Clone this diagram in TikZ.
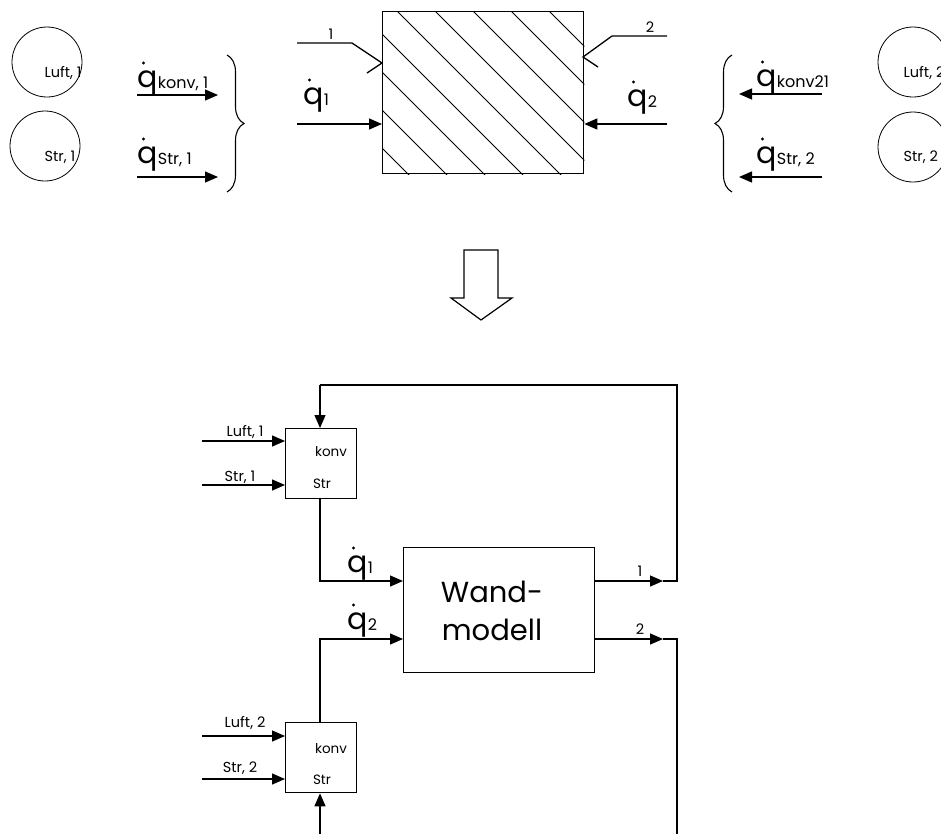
\documentclass[tikz,border=0pt]{standalone}
\usepackage{fontspec}
\setmainfont{Poppins}
\usetikzlibrary{arrows.meta,decorations.pathreplacing}
\newcommand\qdt[1]{{\fontsize{30}{30}\selectfont q}{\fontsize{16}{16}\selectfont\raisebox{-0.12em}{#1}}}
\begin{document}
\begin{tikzpicture}[x=1pt,y=-1pt,line width=1.3pt,
  arr/.style={-{Triangle[length=13pt,width=11pt]}},
  thinl/.style={line width=0.8pt},
  circ/.style={draw,circle,thinl,minimum size=70,inner sep=0},
  blk/.style={draw,line width=1.3pt,inner sep=0,anchor=north west},
  lbl/.style={font=\fontsize{14.5}{14.5}\selectfont,inner sep=0},
  inl/.style={font=\fontsize{13.5}{13.5}\selectfont,inner sep=0},
  big/.style={font=\fontsize{29}{38}\selectfont,inner sep=0,align=center},
  ql/.style={inner sep=0,anchor=base west}]
\tikzset{brc/.style={decorate,decoration={brace,amplitude=17pt},line width=1.1pt},
  qdot/.pic={\fill (6.5,-24) circle (1.7);}}
\useasboundingbox (0,0) rectangle (941,833);
\clip (0,0) rectangle (941,833);

% ---------- top: circles ----------
\node[circ] (cL1) at (47,62) {};
\node[circ] (cS1) at (45,146) {};
\node[circ] (cL2) at (913,62) {};
\node[circ] (cS2) at (913,147) {};
\node[lbl] (tL1) at (63,73) {Luft, 1};
\node[lbl] (tS1) at (60,157) {Str, 1};
\node[lbl,anchor=west] (tL2) at (903,73) {Luft, 2};
\node[lbl,anchor=west] (tS2) at (903,157) {Str, 2};

% ---------- top: left arrows ----------
\coordinate (k1s) at (137,95); \coordinate (k1e) at (218,95);
\coordinate (s1s) at (137,177); \coordinate (s1e) at (218,177);
\draw[arr] (k1s) -- (k1e);
\draw[arr] (s1s) -- (s1e);
\node[ql] (qk1) at (137,87) {\qdt{konv, 1}};
\pic at (qk1.base west) {qdot};
\node[ql] (qs1) at (137,163) {\qdt{Str, 1}};
\pic at (qs1.base west) {qdot};
\coordinate (b1t) at (227,55); \coordinate (b1b) at (227,192);
\draw[brc] (b1t) -- (b1b);

% ---------- top: right arrows ----------
\coordinate (k2s) at (822,94); \coordinate (k2e) at (739,94);
\coordinate (s2s) at (822,177); \coordinate (s2e) at (739,177);
\draw[arr] (k2s) -- (k2e);
\draw[arr] (s2s) -- (s2e);
\node[ql] (qk2) at (756,86) {\qdt{konv21}};
\pic at (qk2.base west) {qdot};
\node[ql] (qs2) at (756,163) {\qdt{Str, 2}};
\pic at (qs2.base west) {qdot};
\coordinate (b2b) at (732,192); \coordinate (b2t) at (732,55);
\draw[brc] (b2b) -- (b2t);

% ---------- top: wall ----------
\node[blk,minimum width=201,minimum height=162] (wall) at (382,11) {};
\begin{scope}
  \clip (wall.north west) rectangle (wall.south east);
  \foreach \c in {234,272,...,538}
    \draw[thinl] (\c-189,-189) -- (\c+373,373);
\end{scope}
\node[blk,minimum width=201,minimum height=162] at (382,11) {};

\coordinate (w1a) at (297,43); \coordinate (w1b) at (352,43);
\coordinate (w1t) at (382,63); \coordinate (w1c) at (367,73);
\draw (w1a) -- (w1b) -- (w1t) -- (w1c);
\node[lbl,anchor=south] (l1) at (331,40) {1};
\coordinate (w2a) at (667,36); \coordinate (w2b) at (612,36);
\coordinate (w2t) at (583,57); \coordinate (w2c) at (598,67);
\draw (w2a) -- (w2b) -- (w2t) -- (w2c);
\node[lbl,anchor=south] (l2) at (650,33) {2};

\coordinate (q1s) at (297,124);
\draw[arr] (q1s) -- (wall.west |- q1s);
\node[ql] (q1) at (303,104) {\qdt{1}};
\pic at (q1.base west) {qdot};
\coordinate (q2s) at (667,124);
\draw[arr] (q2s) -- (wall.east |- q2s);
\node[ql] (q2) at (627,106) {\qdt{2}};
\pic at (q2.base west) {qdot};

% ---------- hollow arrow ----------
\draw[line width=1.2pt] (464,250) -- (498,250) -- (498,298) -- (512,298) -- (481,320)
  -- (451,298) -- (464,298) -- cycle;

% ---------- bottom: blocks ----------
\node[blk,minimum width=71,minimum height=70] (k1) at (285,428) {};
\node[inl] (k1a) at (331,452) {konv};
\node[inl] (k1b) at (322,484) {Str};
\node[blk,minimum width=71,minimum height=70] (k2) at (285,722) {};
\node[inl] (k2a) at (331,749) {konv};
\node[inl] (k2b) at (322,780) {Str};
\node[blk,minimum width=191,minimum height=125] (wm) at (403,547) {};
\node[big] (wmt) at (492,611) {Wand-\\modell};

% inputs block 1
\coordinate (iL1) at (202,441); \coordinate (iS1) at (202,485);
\draw[arr] (iL1) -- (k1.west |- iL1);
\draw[arr] (iS1) -- (k1.west |- iS1);
\node[lbl] (nL1) at (245,432) {Luft, 1};
\node[lbl] (nS1) at (240,477) {Str, 1};
% inputs block 2
\coordinate (iL2) at (202,736); \coordinate (iS2) at (202,779);
\draw[arr] (iL2) -- (k2.west |- iL2);
\draw[arr] (iS2) -- (k2.west |- iS2);
\node[lbl] (nL2) at (245,723) {Luft, 2};
\node[lbl] (nS2) at (240,768) {Str, 2};

% q1 / q2 connections
\coordinate (c1) at (320,581);
\draw[arr] (k1.south -| c1) -- (c1) -- (wm.west |- c1);
\node[ql] (bq1) at (347,572) {\qdt{1}};
\pic at (bq1.base west) {qdot};
\coordinate (c2) at (320,639);
\draw[arr] (k2.north -| c2) -- (c2) -- (wm.west |- c2);
\node[ql] (bq2) at (347,629) {\qdt{2}};
\pic at (bq2.base west) {qdot};

% outputs and feedback
\coordinate (o1) at (663,581); \coordinate (o1c) at (677,581);
\coordinate (f1) at (677,385); \coordinate (f1b) at (320,385);
\draw[arr] (wm.east |- o1) -- (o1);
\draw (o1) -- (o1c) -- (f1) -- (f1b);
\draw[arr] (f1b) -- (k1.north -| f1b);
\node[lbl,anchor=south] (no1) at (640,577) {1};
\coordinate (o2) at (663,639); \coordinate (o2c) at (677,639);
\coordinate (f2) at (677,840); \coordinate (f2b) at (320,840);
\draw[arr] (wm.east |- o2) -- (o2);
\draw (o2) -- (o2c) -- (f2);
\draw[arr] (f2b) -- (k2.south -| f2b);
\node[lbl,anchor=south] (no2) at (640,635) {2};
\end{tikzpicture}
\end{document}
